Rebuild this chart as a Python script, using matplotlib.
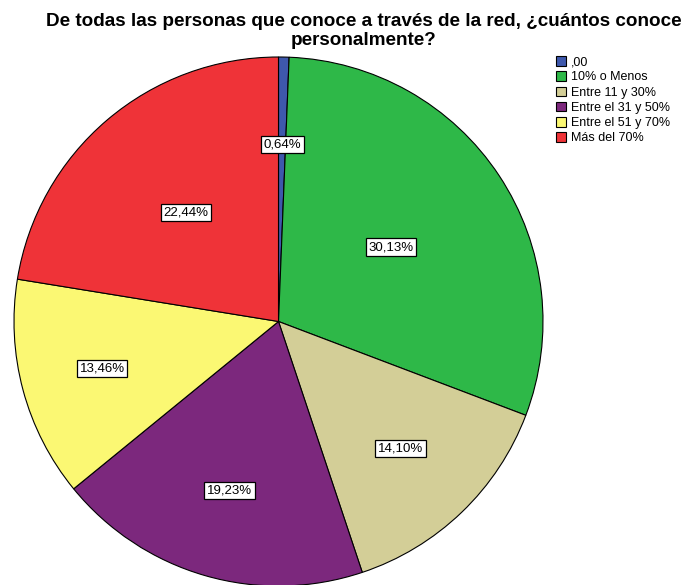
import numpy as np
import matplotlib
matplotlib.use("Agg")
import matplotlib.pyplot as plt

# Data
categories = [",00", "10% o Menos", "Entre 11 y 30%", "Entre el 31 y 50%",
              "Entre el 51 y 70%", "Más del 70%"]
percentages = [0.64, 30.13, 14.10, 19.23, 13.46, 22.44]
pct_labels = ["0,64%", "30,13%", "14,10%", "19,23%", "13,46%", "22,44%"]

colors = ["#3E58AC", "#2EB848", "#D3CE97", "#7C287D", "#FBF873", "#EF3338"]
# radial position of each label box (fraction of the radius)
label_r = [0.67, 0.51, 0.665, 0.665, 0.69, 0.54]

plt.rcParams["font.family"] = ["Liberation Sans", "DejaVu Sans"]

W, H = 692, 585
fig = plt.figure(figsize=(W / 100, H / 100), dpi=100)

# pie centre and radius in pixels
cx, cy, r = 278.5, 321.5, 264.5
ax = fig.add_axes([(cx - r) / W, (H - cy - r) / H, 2 * r / W, 2 * r / H])

wedges, _ = ax.pie(percentages, colors=colors, startangle=90, counterclock=False,
                   radius=1, wedgeprops=dict(edgecolor="black", linewidth=0.8))
for w in wedges:
    w.set_clip_on(False)
ax.set_xlim(-1, 1)
ax.set_ylim(-1, 1)
ax.axis("off")

for w, lab, rr in zip(wedges, pct_labels, label_r):
    ang = np.deg2rad((w.theta1 + w.theta2) / 2)
    ax.text(rr * np.cos(ang), rr * np.sin(ang), lab, ha="center", va="center",
            fontsize=9.5,
            bbox=dict(boxstyle="square,pad=0.2", facecolor="white",
                      edgecolor="black", linewidth=0.9))

fig.text(364 / W, 1 - 31 / H,
         "De todas las personas que conoce a través de la red, ¿cuántos conoce\npersonalmente?",
         ha="center", va="center", fontsize=13.6, fontweight="bold", linespacing=1.2)

fig.legend(wedges, categories, loc="upper left", bbox_to_anchor=(556 / W, 1 - 56 / H),
           frameon=False, fontsize=9, handlelength=0.8, handleheight=0.8,
           handletextpad=0.4, labelspacing=0.25, borderaxespad=0, borderpad=0)

fig.savefig("out.png", dpi=100)
